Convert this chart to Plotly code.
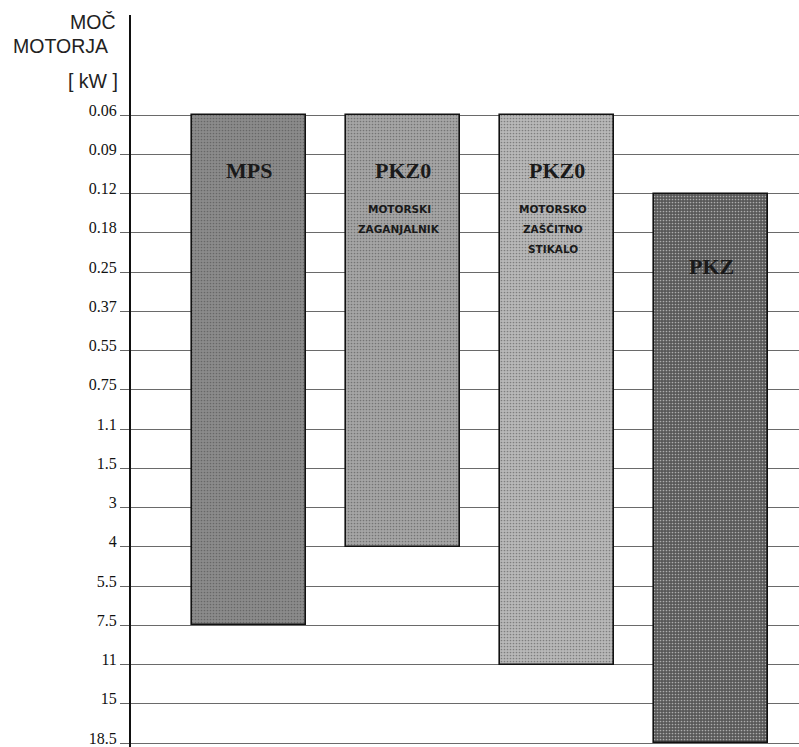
import plotly.graph_objects as go

# Y categories (motor power, kW), top to bottom
power_labels = ["0.06", "0.09", "0.12", "0.18", "0.25", "0.37", "0.55", "0.75",
                "1.1", "1.5", "3", "4", "5.5", "7.5", "11", "15", "18.5"]

# Devices and their power ranges
devices = ["MPS", "PKZ0", "PKZ0", "PKZ"]
range_start = ["0.06", "0.06", "0.06", "0.12"]
range_end = ["7.5", "4", "11", "18.5"]
device_notes = [[], ["MOTORSKI", "ZAGANJALNIK"], ["MOTORSKO", "ZAŠČITNO", "STIKALO"], []]
bar_colors = ["#8b8b8b", "#a5a5a5", "#b8b8b8", "#585858"]
pattern_colors = ["#6a6a6a", "#838383", "#969696", "#383838"]

idx = {lab: i for i, lab in enumerate(power_labels)}
starts = [idx[s] for s in range_start]
ends = [idx[e] for e in range_end]
xs = list(range(len(devices)))

fig = go.Figure()
fig.add_trace(go.Bar(
    x=xs,
    y=[e - s for s, e in zip(starts, ends)],
    base=starts,
    width=0.74,
    marker=dict(color=bar_colors,
                line=dict(color="#111111", width=1.6),
                pattern=dict(shape=".", fgcolor=pattern_colors, size=3, solidity=0.25)),
    hoverinfo="skip",
    showlegend=False,
))

annotations = []
# Device names
title_pos = [1.4, 1.4, 1.4, 3.87]
for x, name, yp in zip(xs, devices, title_pos):
    annotations.append(dict(x=x, y=yp, xref="x", yref="y", text="<b>" + name + "</b>",
                            showarrow=False,
                            font=dict(family="Liberation Serif", size=22, color="#1a1a1a")))
# Notes under device names
for x, notes in zip(xs, device_notes):
    for k, line in enumerate(notes):
        annotations.append(dict(x=x, y=2.4 + 0.51 * k, xref="x", yref="y",
                                text="<b>" + line + "</b>", showarrow=False, xshift=-4,
                                font=dict(family="DejaVu Sans", size=10.5, color="#1a1a1a")))
# Axis title
for text, xs_, ys in [("MOČ", -13, -7), ("MOTORJA", -21, -31), ("[ kW ]", -11, -66)]:
    annotations.append(dict(x=0, y=1, xref="paper", yref="paper", text=text,
                            showarrow=False, xanchor="right", yanchor="middle",
                            xshift=xs_, yshift=ys,
                            font=dict(family="Liberation Sans", size=19.5, color="#222222")))

fig.update_layout(
    width=799, height=747,
    margin=dict(l=131, r=0, t=15, b=0),
    paper_bgcolor="white", plot_bgcolor="white",
    bargap=0,
    annotations=annotations,
    xaxis=dict(range=[-0.766, 3.57], visible=False, showgrid=False, zeroline=False),
    yaxis=dict(
        range=[16.1, -2.55],
        tickmode="array",
        tickvals=list(range(len(power_labels))),
        ticktext=power_labels,
        showgrid=True, gridcolor="#6a6a6a", gridwidth=1.3,
        zeroline=False,
        showline=True, linecolor="#111111", linewidth=2,
        ticks="outside", ticklen=9, tickcolor="#666666", tickwidth=1,
        ticklabelshift=5,
        tickfont=dict(family="Liberation Serif", size=16, color="#111111"),
    ),
)

fig.write_html("out.html", config={"displayModeBar": False},
               post_script="document.body.style.margin='0';document.body.style.overflow='hidden';")
